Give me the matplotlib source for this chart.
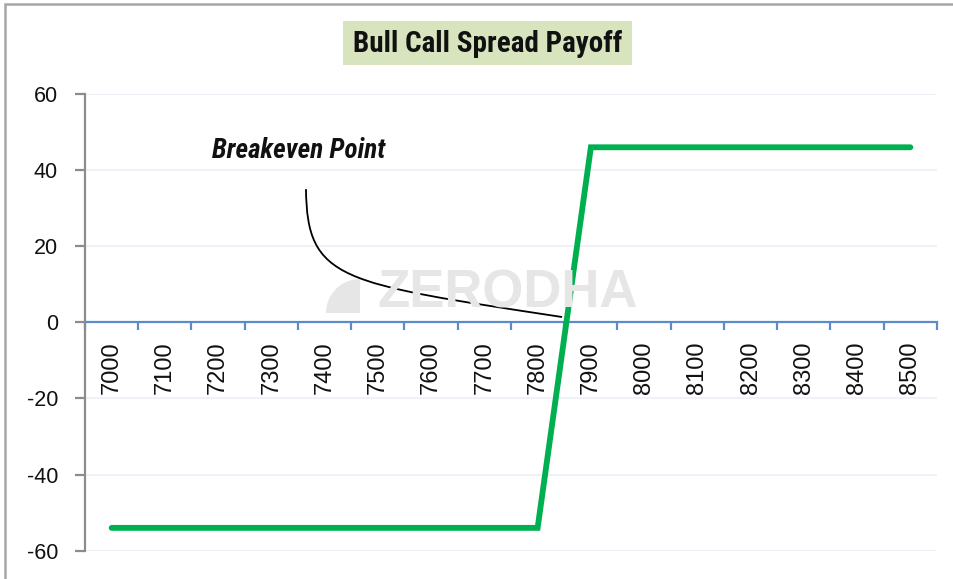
import numpy as np
import matplotlib
matplotlib.use("Agg")
import matplotlib.pyplot as plt
from matplotlib import font_manager
from matplotlib.patches import Rectangle, Polygon
from matplotlib.path import Path
from matplotlib.patches import PathPatch
from matplotlib.ticker import FixedLocator
from matplotlib.transforms import IdentityTransform

# ---------------- data ----------------
strikes = [7000, 7100, 7200, 7300, 7400, 7500, 7600, 7700,
           7800, 7900, 8000, 8100, 8200, 8300, 8400, 8500]
payoff = [-54, -54, -54, -54, -54, -54, -54, -54,
          -54, 46, 46, 46, 46, 46, 46, 46]
y_ticks = [-60, -40, -20, 0, 20, 40, 60]
title_text = "Bull Call Spread Payoff"
note_text = "Breakeven Point"
watermark_text = "ZERODHA"
# curved pointer (category index, payoff) control points for the note
pointer_x = [3.65, 3.67, 4.29, 8.46]
pointer_y = [35.0, 11.0, 10.3, 1.4]

# ---------------- fonts ----------------
available = {f.name for f in font_manager.fontManager.ttflist}
narrow = None
for cand in ["Liberation Sans Narrow", "DejaVu Sans Condensed", "Roboto Condensed", "Open Sans Condensed"]:
    if cand in available:
        narrow = cand
        break
base = "Liberation Sans" if "Liberation Sans" in available else "DejaVu Sans"
plt.rcParams['font.family'] = [base, 'DejaVu Sans']

W, H = 954, 579
fig = plt.figure(figsize=(W / 100, H / 100), dpi=100)
fig.patch.set_facecolor("white")

def fx(px):
    return px / W

def fy(py):
    return 1 - py / H

# outer chart frame (only top and left edges visible)
fig.patches.append(Rectangle((fx(5), fy(600)), fx(1100), fy(4) - fy(600),
                             transform=fig.transFigure, fill=False,
                             edgecolor="#A6A6A6", linewidth=1.8, zorder=0))

# axes
x0, x1, ytop, ybot = 85, 937, 94, 550.7
ax = fig.add_axes([fx(x0), fy(ybot), fx(x1 - x0), fy(ytop) - fy(ybot)])
ax.set_facecolor("none")
n = len(strikes)
xs = np.arange(n)
ax.set_xlim(-0.5, n - 0.5)
ax.set_ylim(-60, 60)

# gridlines
ax.set_yticks(y_ticks)
ax.yaxis.grid(True, color="#EDF2F9", linewidth=1.4)
ax.set_axisbelow(True)

for s in ["top", "right"]:
    ax.spines[s].set_visible(False)
ax.spines["left"].set_color("#8C8C8C")
ax.spines["left"].set_linewidth(1.6)
ax.spines["bottom"].set_position(("data", 0))
ax.spines["bottom"].set_color("#5B8BC9")
ax.spines["bottom"].set_linewidth(1.6)
ax.spines["bottom"].set_zorder(2)

ax.tick_params(axis="y", direction="out", length=7.5, width=1.6, color="#8C8C8C",
               labelsize=15.5, pad=12, labelcolor="#111111")
ax.set_yticklabels([str(v) for v in y_ticks])

ax.set_xticks(xs)
ax.set_xticklabels([str(s) for s in strikes], rotation=90, va="top", ha="center")
ax.tick_params(axis="x", which="major", length=0, pad=13.5, labelsize=17, labelcolor="#111111")
ax.xaxis.set_minor_locator(FixedLocator(np.arange(-0.5, n, 1.0)))
ax.tick_params(axis="x", which="minor", direction="out", length=6, width=1.6, color="#5B8BC9")

# watermark
fig.text(fx(508), fy(294), watermark_text, fontsize=38, color="#E6E6E6",
         fontweight="bold", ha="center", va="center", family=[base, "DejaVu Sans"], zorder=0)
theta = np.linspace(np.pi / 2, np.pi, 30)
cx, cy, r = 360, H - 313, 34
logo = [(cx, cy)] + [(cx + r * np.cos(t), cy + r * np.sin(t)) for t in theta]
fig.patches.append(Polygon(logo, closed=True, transform=IdentityTransform(),
                           facecolor="#E6E6E6", edgecolor="none", zorder=0))

# payoff line
ax.plot(xs, payoff, color="#00B050", linewidth=4.2, solid_capstyle="round",
        solid_joinstyle="miter", zorder=3)

# curved pointer for breakeven note
verts = list(zip(pointer_x, pointer_y))
path = Path(verts, [Path.MOVETO, Path.CURVE4, Path.CURVE4, Path.CURVE4])
ax.add_patch(PathPatch(path, facecolor="none", edgecolor="black", linewidth=1.3, zorder=4))

# note text
if narrow:
    fig.text(fx(212), fy(150), note_text, family=[narrow, "DejaVu Sans"], fontsize=19.5,
             fontweight="bold", fontstyle="italic", ha="left", va="center", color="#111111")
else:
    fig.text(fx(212), fy(150), note_text, fontsize=16, fontweight="bold",
             fontstyle="italic", ha="left", va="center", color="#111111")

# title box
fig.patches.append(Rectangle((fx(343), fy(65)), fx(632 - 343), fy(21) - fy(65),
                             transform=fig.transFigure, facecolor="#D7E4BD",
                             edgecolor="none", zorder=1))
if narrow:
    fig.text(fx(487.5), fy(44), title_text, family=[narrow, "DejaVu Sans"], fontsize=21,
             fontweight="bold", ha="center", va="center", color="#111111", zorder=2)
else:
    fig.text(fx(487.5), fy(44), title_text, fontsize=17.5, fontweight="bold",
             ha="center", va="center", color="#111111", zorder=2)

fig.savefig("out.png", dpi=100)
